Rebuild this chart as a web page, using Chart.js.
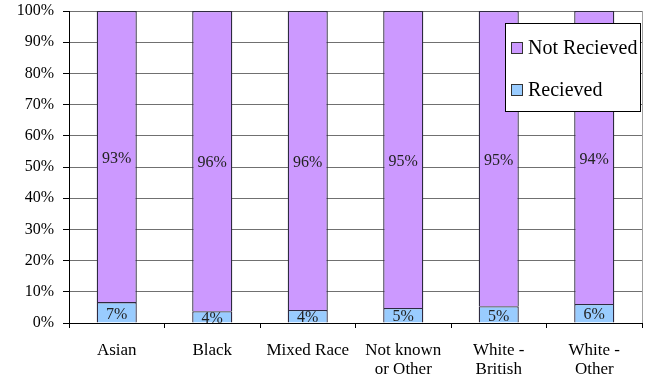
<!DOCTYPE html>
<html>
<head>
<meta charset="utf-8">
<script src="https://cdn.jsdelivr.net/npm/chart.js@4.4.1/dist/chart.umd.min.js"></script>
<style>
html,body{margin:0;padding:0;background:#fff;}
#wrap{width:649px;height:379px;position:relative;}
</style>
</head>
<body>
<div id="wrap"><canvas id="c"></canvas></div>
<script>
const categories = ['Asian', 'Black', 'Mixed Race', ['Not known', 'or Other'], ['White -', 'British'], ['White -', 'Other']];
const received = [6.7, 3.8, 4.2, 4.8, 5.4, 6.1];
const notReceived = [93.3, 96.2, 95.8, 95.2, 94.6, 93.9];
const yTicks = [0, 10, 20, 30, 40, 50, 60, 70, 80, 90, 100];
const seriesNames = ['Recieved', 'Not Recieved'];

const FONT = "'Liberation Serif', 'Times New Roman', serif";

const dataLabels = {
  id: 'dataLabels',
  afterDatasetsDraw(chart) {
    const ctx = chart.ctx;
    ctx.save();
    ctx.font = '16px ' + FONT;
    ctx.fillStyle = '#222';
    ctx.textAlign = 'center';
    ctx.textBaseline = 'middle';
    chart.data.datasets.forEach((ds, di) => {
      const meta = chart.getDatasetMeta(di);
      meta.data.forEach((bar, i) => {
        const p = bar.getProps(['x', 'y', 'base'], true);
        const cy = (p.y + p.base) / 2;
        ctx.fillText(Math.round(ds.data[i]) + '%', p.x, cy + 2);
      });
    });
    ctx.restore();
  }
};

const frame = {
  id: 'frame',
  beforeDatasetsDraw(chart) {
    const a = chart.chartArea, ctx = chart.ctx;
    ctx.save();
    ctx.strokeStyle = '#a0a0a0';
    ctx.lineWidth = 1;
    ctx.beginPath();
    ctx.moveTo(Math.round(a.right) + 0.5, a.top);
    ctx.lineTo(Math.round(a.right) + 0.5, a.bottom);
    ctx.stroke();
    ctx.restore();
  }
};

const customLegend = {
  id: 'customLegend',
  afterDraw(chart) {
    const ctx = chart.ctx;
    const bx = 505.5, by = 23.5, bw = 135, bh = 88;
    ctx.save();
    ctx.fillStyle = '#fff';
    ctx.fillRect(bx, by, bw, bh);
    ctx.strokeStyle = '#000';
    ctx.lineWidth = 1;
    ctx.strokeRect(bx, by, bw, bh);
    const items = [chart.data.datasets[1], chart.data.datasets[0]];
    const rows = [48, 90];
    ctx.font = '20px ' + FONT;
    ctx.textBaseline = 'middle';
    ctx.textAlign = 'left';
    items.forEach((ds, k) => {
      const y = rows[k];
      ctx.fillStyle = ds.backgroundColor;
      ctx.fillRect(511.5, y - 5.5, 11, 11);
      ctx.strokeStyle = '#333';
      ctx.strokeRect(511.5, y - 5.5, 11, 11);
      ctx.fillStyle = '#000';
      ctx.fillText(ds.label, 528, y + 1);
    });
    ctx.restore();
  }
};

new Chart(document.getElementById('c'), {
  type: 'bar',
  data: {
    labels: categories,
    datasets: [
      { label: seriesNames[0], data: received, backgroundColor: '#99CCFF', borderColor: '#2e2a40', borderWidth: 1.3, barPercentage: 0.42, categoryPercentage: 1 },
      { label: seriesNames[1], data: notReceived, backgroundColor: '#CC99FF', borderColor: '#2e2a40', borderWidth: 1.3, barPercentage: 0.42, categoryPercentage: 1 }
    ]
  },
  options: {
    responsive: true,
    maintainAspectRatio: false,
    animation: false,
    layout: { padding: { top: 11, right: 7, left: 0, bottom: 0 } },
    plugins: { legend: { display: false }, tooltip: { enabled: false } },
    scales: {
      x: {
        stacked: true,
        afterFit: s => { s.height = 56; s.paddingLeft = 0; s.paddingRight = 0; },
        grid: { offset: true, drawOnChartArea: false, drawTicks: true, tickLength: 5, tickColor: '#000' },
        border: { display: true, color: '#000', width: 1 },
        ticks: { color: '#000', font: { family: FONT, size: 17, lineHeight: 1.12 }, padding: 13, maxRotation: 0, autoSkip: false }
      },
      y: {
        stacked: true,
        min: 0, max: 100,
        afterFit: s => { s.width = 69; s.paddingTop = 0; s.paddingBottom = 0; },
        afterBuildTicks: s => { s.ticks = yTicks.map(v => ({ value: v })); },
        grid: { color: '#707070', tickColor: '#000', tickLength: 6, drawTicks: true },
        border: { display: true, color: '#000', width: 1 },
        ticks: { color: '#000', font: { family: FONT, size: 16 }, padding: 9, callback: v => v + '%' }
      }
    }
  },
  plugins: [frame, dataLabels, customLegend]
});
</script>
</body>
</html>
